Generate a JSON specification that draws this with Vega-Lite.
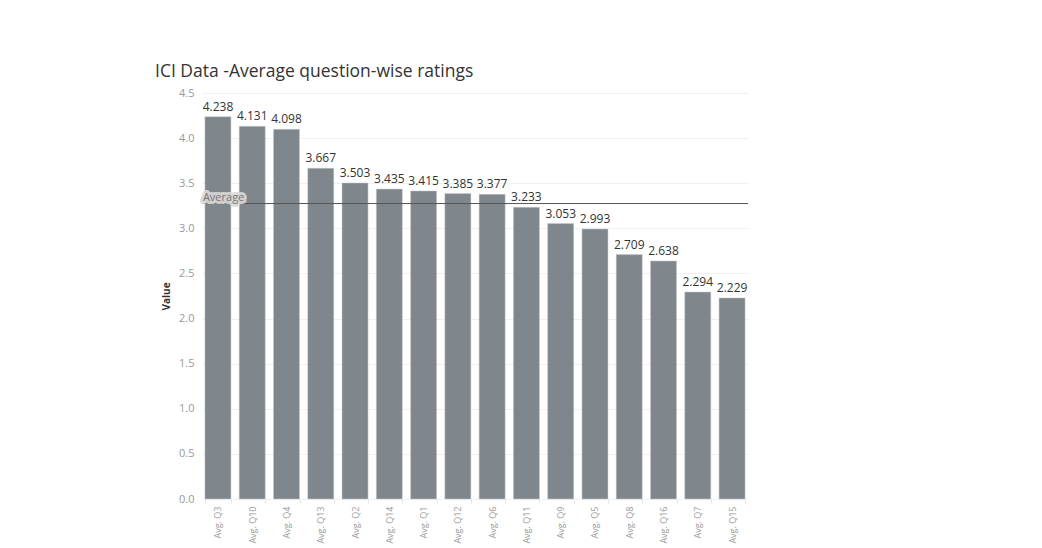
{
  "$schema": "https://vega.github.io/schema/vega-lite/v6.json",
  "autosize": {"type": "none"},
  "width": 546,
  "height": 406,
  "padding": {"left": 202, "top": 93, "right": 294, "bottom": 49},
  "background": "white",
  "title": {
    "text": "ICI Data -Average question-wise ratings",
    "anchor": "start",
    "frame": "group",
    "dx": -47,
    "offset": 7,
    "font": "Open Sans",
    "fontSize": 17.5,
    "fontWeight": "normal",
    "color": "#333333"
  },
  "config": {
    "view": {"stroke": null},
    "font": "Open Sans"
  },
  "data": {
    "values": [
      {"q": "Avg. Q3", "value": 4.238},
      {"q": "Avg. Q10", "value": 4.131},
      {"q": "Avg. Q4", "value": 4.098},
      {"q": "Avg. Q13", "value": 3.667},
      {"q": "Avg. Q2", "value": 3.503},
      {"q": "Avg. Q14", "value": 3.435},
      {"q": "Avg. Q1", "value": 3.415},
      {"q": "Avg. Q12", "value": 3.385},
      {"q": "Avg. Q6", "value": 3.377},
      {"q": "Avg. Q11", "value": 3.233},
      {"q": "Avg. Q9", "value": 3.053},
      {"q": "Avg. Q5", "value": 2.993},
      {"q": "Avg. Q8", "value": 2.709},
      {"q": "Avg. Q16", "value": 2.638},
      {"q": "Avg. Q7", "value": 2.294},
      {"q": "Avg. Q15", "value": 2.229}
    ]
  },
  "layer": [
    {
      "mark": {"type": "bar", "color": "#7f878d", "stroke": "#c9cdd0", "strokeWidth": 0.5},
      "encoding": {
        "x": {
          "field": "q",
          "type": "nominal",
          "sort": null,
          "scale": {"paddingInner": 0.24, "paddingOuter": 0.085},
          "axis": {
            "title": null,
            "labelAngle": -90,
            "labelColor": "#999999",
            "labelFontSize": 9,
            "labelPadding": 3,
            "domain": false,
            "tickColor": "#e6e6e6",
            "tickSize": 4,
            "tickBand": "extent"
          }
        },
        "y": {
          "field": "value",
          "type": "quantitative",
          "scale": {"domain": [0, 4.5], "nice": false},
          "axis": {
            "title": "Value",
            "titleFontSize": 10,
            "titleFontWeight": "bold",
            "titleColor": "#333333",
            "titlePadding": 7,
            "values": [0, 0.5, 1, 1.5, 2, 2.5, 3, 3.5, 4, 4.5],
            "format": ".1f",
            "labelColor": "#999999",
            "labelFontSize": 11,
            "labelPadding": 8,
            "domain": false,
            "ticks": false,
            "gridColor": "#f0f0f0"
          }
        }
      }
    },
    {
      "mark": {"type": "text", "baseline": "bottom", "dy": -3, "fontSize": 12, "color": "#333333"},
      "encoding": {
        "x": {"field": "q", "type": "nominal", "sort": null},
        "y": {"field": "value", "type": "quantitative"},
        "text": {"field": "value", "type": "quantitative", "format": ".3f"}
      }
    },
    {
      "mark": {"type": "rule", "color": "#555555", "strokeWidth": 1},
      "encoding": {
        "y": {"field": "value", "type": "quantitative", "aggregate": "mean"}
      }
    },
    {
      "mark": {"type": "text", "align": "left", "baseline": "bottom", "dy": -1, "dx": -2, "fontSize": 11, "color": "#d9d9d9", "stroke": "#d9d9d9", "strokeWidth": 6, "strokeJoin": "round", "opacity": 0.9},
      "encoding": {
        "x": {"datum": "Avg. Q3", "type": "nominal", "bandPosition": 0},
        "y": {"field": "value", "type": "quantitative", "aggregate": "mean"},
        "text": {"value": "Average"}
      }
    },
    {
      "mark": {"type": "text", "align": "left", "baseline": "bottom", "dy": -1, "dx": -2, "fontSize": 11, "color": "#777777"},
      "encoding": {
        "x": {"datum": "Avg. Q3", "type": "nominal", "bandPosition": 0},
        "y": {"field": "value", "type": "quantitative", "aggregate": "mean"},
        "text": {"value": "Average"}
      }
    }
  ]
}
